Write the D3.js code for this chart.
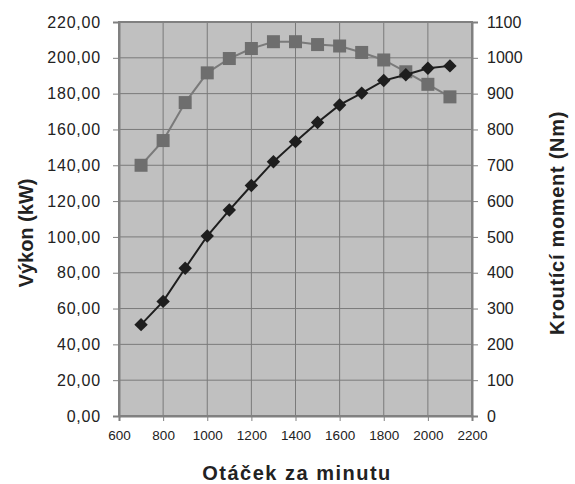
<!DOCTYPE html>
<html>
<head>
<meta charset="utf-8">
<script src="https://cdn.jsdelivr.net/npm/d3@7"></script>
<style>
  body { margin: 0; background: #fff; }
  svg text { font-family: "Liberation Sans", Arial, sans-serif; }
</style>
</head>
<body>
<div id="chart"></div>
<script>
var rpm = [700, 800, 900, 1000, 1100, 1200, 1300, 1400, 1500, 1600, 1700, 1800, 1900, 2000, 2100];
var power = [51, 64, 82.5, 100.5, 115, 128.7, 142, 153.2, 163.9, 173.7, 180.3, 187.3, 190.5, 194.2, 195.5];
var torque = [700, 769, 875, 958, 998, 1026, 1045, 1045, 1037, 1033, 1015, 994, 961, 926, 891];
var xTicks = [600, 800, 1000, 1200, 1400, 1600, 1800, 2000, 2200];
var leftTicks = [0, 20, 40, 60, 80, 100, 120, 140, 160, 180, 200, 220];
var rightTicks = [0, 100, 200, 300, 400, 500, 600, 700, 800, 900, 1000, 1100];

var width = 575, height = 484;
var m = {left: 119, right: 103, top: 22, bottom: 68};

var svg = d3.select("#chart").append("svg")
  .attr("width", width)
  .attr("height", height);

var x = d3.scaleLinear().domain([600, 2200]).range([m.left, width - m.right]);
var yL = d3.scaleLinear().domain([0, 220]).range([height - m.bottom, m.top]);
var yR = d3.scaleLinear().domain([0, 1100]).range([height - m.bottom, m.top]);

// plot area
svg.append("rect")
  .attr("x", m.left).attr("y", m.top)
  .attr("width", x(2200) - x(600)).attr("height", yL(0) - yL(220))
  .attr("fill", "#c0c0c0");

// grid
svg.append("g").selectAll("line").data(xTicks).enter().append("line")
  .attr("x1", function (d) { return x(d); }).attr("x2", function (d) { return x(d); })
  .attr("y1", m.top).attr("y2", yL(0))
  .attr("stroke", "#7a7a7a").attr("stroke-width", 1);
svg.append("g").selectAll("line").data(leftTicks).enter().append("line")
  .attr("x1", m.left).attr("x2", x(2200))
  .attr("y1", function (d) { return yL(d); }).attr("y2", function (d) { return yL(d); })
  .attr("stroke", "#7a7a7a").attr("stroke-width", 1);

svg.append("rect")
  .attr("x", m.left).attr("y", m.top)
  .attr("width", x(2200) - x(600)).attr("height", yL(0) - yL(220))
  .attr("fill", "none").attr("stroke", "#808080").attr("stroke-width", 2);

// axes
var fmt = function (d) { return d3.format(".2f")(d).replace(".", ","); };

var gL = svg.append("g")
  .attr("transform", "translate(" + m.left + ",0)")
  .call(d3.axisLeft(yL).tickValues(leftTicks).tickFormat(fmt).tickSize(6).tickPadding(12));
var gR = svg.append("g")
  .attr("transform", "translate(" + x(2200) + ",0)")
  .call(d3.axisRight(yR).tickValues(rightTicks).tickFormat(d3.format("d")).tickSize(6).tickPadding(9));
var gB = svg.append("g")
  .attr("transform", "translate(0," + yL(0) + ")")
  .call(d3.axisBottom(x).tickValues(xTicks).tickFormat(d3.format("d")).tickSize(5).tickPadding(9));

[gL, gR, gB].forEach(function (g) {
  g.select(".domain").attr("stroke", "#808080").attr("stroke-width", 2);
  g.selectAll(".tick line").attr("stroke", "#808080");
  g.selectAll(".tick text").attr("fill", "#222")
    .style("font-family", "'Liberation Sans', Arial, sans-serif");
});
gL.selectAll(".tick text").style("font-size", "16px").style("letter-spacing", "0.8px");
gR.selectAll(".tick text").style("font-size", "16px");
gB.selectAll(".tick text").style("font-size", "13.5px");

// series
var linePower = d3.line()
  .x(function (d, i) { return x(rpm[i]); })
  .y(function (d) { return yL(d); });
var lineTorque = d3.line()
  .x(function (d, i) { return x(rpm[i]); })
  .y(function (d) { return yR(d); });

svg.append("path").datum(torque)
  .attr("d", lineTorque)
  .attr("fill", "none").attr("stroke", "#7a7a7a").attr("stroke-width", 2);

svg.append("g").selectAll("rect").data(torque).enter().append("rect")
  .attr("x", function (d, i) { return x(rpm[i]) - 6.5; })
  .attr("y", function (d) { return yR(d) - 6.5; })
  .attr("width", 13).attr("height", 13)
  .attr("fill", "#6e6e6e");

svg.append("path").datum(power)
  .attr("d", linePower)
  .attr("fill", "none").attr("stroke", "#1e1e1e").attr("stroke-width", 2);

var diamond = d3.symbol().type(d3.symbolSquare).size(90);
svg.append("g").selectAll("path").data(power).enter().append("path")
  .attr("d", diamond)
  .attr("transform", function (d, i) { return "translate(" + x(rpm[i]) + "," + yL(d) + ") rotate(45)"; })
  .attr("fill", "#1e1e1e");

// titles
svg.append("text")
  .attr("transform", "translate(33,233) rotate(-90)")
  .attr("text-anchor", "middle")
  .style("font-size", "20px").style("font-weight", "bold").attr("fill", "#222")
  .text("Výkon (kW)");

svg.append("text")
  .attr("transform", "translate(564,223) rotate(-90)")
  .attr("text-anchor", "middle")
  .style("font-size", "20px").style("font-weight", "bold").style("letter-spacing", "0.7px").attr("fill", "#222")
  .text("Kroutící moment (Nm)");

svg.append("text")
  .attr("x", 297).attr("y", 480)
  .attr("text-anchor", "middle")
  .style("font-size", "20px").style("font-weight", "bold").style("letter-spacing", "1.5px").attr("fill", "#222")
  .text("Otáček za minutu");
</script>
</body>
</html>
